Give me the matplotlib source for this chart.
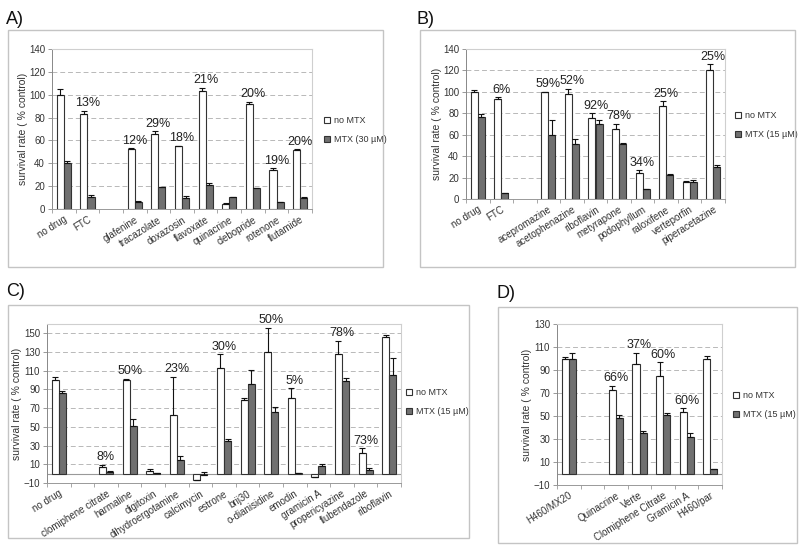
import numpy as np
import matplotlib
matplotlib.use("Agg")
import matplotlib.pyplot as plt
from matplotlib.patches import Patch, Rectangle

plt.rcParams['font.family'] = ['Liberation Sans', 'DejaVu Sans']
plt.rcParams['text.color'] = '#333333'
plt.rcParams['axes.labelcolor'] = '#333333'
plt.rcParams['xtick.color'] = '#333333'
plt.rcParams['ytick.color'] = '#333333'

# ---- panel A ----
a_cats = ['no drug', 'FTC', '', 'glafenine', 'tracazolate', 'doxazosin', 'flavoxate',
          'quinacrine', 'clebopride', 'rotenone', 'flutamide']
a_nomtx = [100, 83, np.nan, 52.5, 66, 54.8, 103, 4.4, 91.5, 34.4, 51.8]
a_nomtx_err = [5, 3, np.nan, 0.5, 2, 0.5, 3, 0.5, 2, 1.2, 0.5]
a_mtx = [40, 10.8, np.nan, 6.2, 19, 10, 21, 10.2, 18.7, 6, 10]
a_mtx_err = [2, 1.5, np.nan, 1, 0.5, 1.5, 1.5, 0, 0, 0, 0.5]
a_pct = ['', '13%', '', '12%', '29%', '18%', '21%', '', '20%', '19%', '20%']

# ---- panel B ----
b_cats = ['no drug', 'FTC', '', 'acepromazine', 'acetophenazine', 'riboflavin', 'metyrapone',
          'podophyllum', 'raloxifene', 'verteporfin', 'piperacetazine']
b_nomtx = [100, 93.5, np.nan, 100, 98, 76, 65, 24, 87, 16, 120]
b_nomtx_err = [2, 1.5, np.nan, 0, 5, 4, 5, 2.8, 4, 0.5, 5.6]
b_mtx = [76.5, 6, np.nan, 60, 51, 70, 51.6, 9, 22, 16, 30]
b_mtx_err = [2.5, 0, np.nan, 14, 4.7, 3.5, 0.5, 0, 1.5, 1.5, 1.5]
b_pct = ['', '6%', '', '59%', '52%', '92%', '78%', '34%', '25%', '', '25%']

# ---- panel C ----
c_cats = ['no drug', '', 'clomiphene citrate', 'harmaline', 'digitoxin', 'dihydroergotamine',
          'calcimycin', 'estrone', 'brij30', 'o-dianisidine', 'emodin', 'gramicin A',
          'propericyazine', 'flubendazole', 'riboflavin']
c_nomtx = [100, np.nan, 7, 100.5, 3, 63, -7, 113, 79, 130, 80.7, -3.6, 128, 22, 146]
c_nomtx_err = [3, np.nan, 2.5, 0.5, 1.8, 40, 0, 14.5, 1.5, 26, 10.4, 0, 14, 5, 2]
c_mtx = [86, np.nan, 1.8, 50.7, 1, 15, -1, 35, 95.5, 65.7, 0.7, 8.2, 99.5, 4.3, 106]
c_mtx_err = [2, np.nan, 0.5, 8, 0, 4.3, 3, 2, 15.7, 6, 0, 1.8, 3, 2, 18]
c_pct = ['', '', '8%', '50%', '', '23%', '', '30%', '', '50%', '5%', '', '78%', '73%', '']

# ---- panel D ----
d_cats = ['H460/MX20', '', 'Quinacrine', 'Verte', 'Clomiphene Citrate', 'Gramicin A', 'H460/par']
d_nomtx = [100, np.nan, 73, 95.5, 85, 53.5, 99.5]
d_nomtx_err = [1.5, np.nan, 3, 9.6, 11.7, 3.2, 3]
d_mtx = [99.5, np.nan, 48.5, 35, 50.5, 32, 3.5]
d_mtx_err = [5, np.nan, 2.7, 2.3, 1.7, 3.2, 0]
d_pct = ['', '', '66%', '37%', '60%', '60%', '']

W, H = 800, 548
fig = plt.figure(figsize=(8, 5.48), dpi=100)


def px_box(x0, y0, x1, y1):
    return [x0 / W, 1 - y1 / H, (x1 - x0) / W, (y1 - y0) / H]


def panel(letter, frame, axbox, letter_xy, legend_xy, cats, white, werr, gray, gerr, pct,
          ylim, yticks, mtx_label, pad):
    fx0, fy0, fx1, fy1 = frame
    fig.add_artist(Rectangle((fx0 / W, 1 - fy1 / H), (fx1 - fx0) / W, (fy1 - fy0) / H,
                             transform=fig.transFigure, fill=False, ec='#c4c4c4', lw=1))
    fig.text(letter_xy[0] / W, 1 - letter_xy[1] / H, letter, fontsize=13,
             ha='left', va='center', color='#111111')

    ax = fig.add_axes(px_box(*axbox))
    x = np.arange(len(cats))
    w = 0.3
    white = np.array(white, float)
    gray = np.array(gray, float)
    werr = np.array(werr, float)
    gerr = np.array(gerr, float)
    ax.bar(x - w / 2, white, w, color='white', edgecolor='#333333', lw=0.8, zorder=3)
    ax.bar(x + w / 2, gray, w, color='#707070', edgecolor='#333333', lw=0.8, zorder=3)
    ax.errorbar(x - w / 2, white, yerr=[np.zeros_like(werr), werr], fmt='none',
                ecolor='#111111', elinewidth=0.8, capsize=2.5, capthick=0.8, zorder=4)
    ax.errorbar(x + w / 2, gray, yerr=[np.zeros_like(gerr), gerr], fmt='none',
                ecolor='#111111', elinewidth=0.8, capsize=2.5, capthick=0.8, zorder=4)

    for i, p in enumerate(pct):
        if p:
            top = white[i] + werr[i]
            ax.text(x[i], top + pad, p, ha='center', va='bottom', fontsize=9,
                    color='#222222', clip_on=False, zorder=5)

    ax.set_xlim(-0.5, len(cats) - 0.5)
    ax.set_ylim(*ylim)
    ax.set_yticks(yticks)
    ax.tick_params(axis='y', labelsize=7, length=3, width=0.6, color='#888888', pad=2)
    ax.set_xticks(x)
    ax.set_xticklabels(cats, rotation=32, ha='right', rotation_mode='anchor', fontsize=7)
    ax.tick_params(axis='x', length=0, pad=4)
    ax.set_xticks(np.arange(len(cats) + 1) - 0.5, minor=True)
    ax.tick_params(axis='x', which='minor', length=3, width=0.6, color='#999999')

    for g in yticks[1:]:
        if g < ylim[1] - 1e-6:
            ax.axhline(g, color='#b8b8b8', lw=0.7, ls=(0, (5, 3)), zorder=1)
    if ylim[0] < 0:
        ax.axhline(0, color='#999999', lw=0.8, zorder=2)
    for s in ['top', 'right']:
        ax.spines[s].set_color('#cfcfcf')
        ax.spines[s].set_linewidth(0.8)
    ax.spines['left'].set_color('#888888')
    ax.spines['left'].set_linewidth(0.7)
    ax.spines['bottom'].set_color('#999999')
    ax.spines['bottom'].set_linewidth(0.7)
    ax.set_ylabel('survival rate ( % control)', fontsize=7.5, labelpad=1)

    handles = [Patch(facecolor='white', edgecolor='#333333', lw=0.8, label='no MTX'),
               Patch(facecolor='#707070', edgecolor='#333333', lw=0.8, label=mtx_label)]
    ax.legend(handles=handles, loc='center left',
              bbox_to_anchor=(legend_xy[0] / W, 1 - legend_xy[1] / H),
              bbox_transform=fig.transFigure, frameon=False, fontsize=6.5,
              handlelength=0.7, handleheight=0.7, handletextpad=0.4,
              labelspacing=1.1, borderpad=0, borderaxespad=0)
    return ax


panel('A)', (8, 30, 383, 267), (52, 49, 312, 209), (6, 20), (324, 130),
      a_cats, a_nomtx, a_nomtx_err, a_mtx, a_mtx_err, a_pct,
      (0, 140), list(range(0, 141, 20)), 'MTX (30 µM)', 1.5)

panel('B)', (420, 30, 795, 267), (466, 49, 725, 199), (417, 20), (735, 125),
      b_cats, b_nomtx, b_nomtx_err, b_mtx, b_mtx_err, b_pct,
      (0, 140), list(range(0, 141, 20)), 'MTX (15 µM)', 1.5)

panel('C)', (8, 305, 469, 538), (47, 324, 401, 483), (6, 292), (406, 402),
      c_cats, c_nomtx, c_nomtx_err, c_mtx, c_mtx_err, c_pct,
      (-10, 160), list(range(-10, 151, 20)), 'MTX (15 µM)', 2)

panel('D)', (498, 307, 797, 543), (557, 324, 722, 485), (497, 294), (733, 405),
      d_cats, d_nomtx, d_nomtx_err, d_mtx, d_mtx_err, d_pct,
      (-10, 130), list(range(-10, 131, 20)), 'MTX (15 µM)', 1.5)

fig.savefig('out.png', dpi=100, facecolor='white')
